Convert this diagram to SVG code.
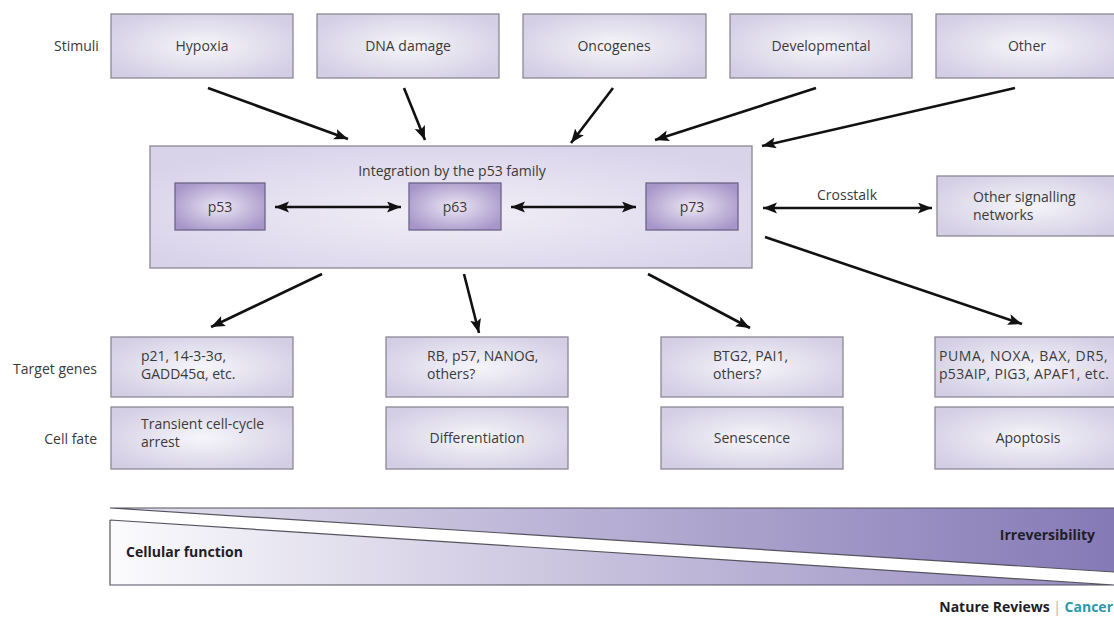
<svg xmlns="http://www.w3.org/2000/svg" width="1114" height="623" viewBox="0 0 1114 623">
<style>
  text { font-family: "Open Sans", "Liberation Sans", sans-serif; font-size: 14px; fill: #3a3a3a; }
  .c { text-anchor: middle; }
  .r { text-anchor: end; }
  .b { font-weight: 700; fill: #1e1e28; }
  .box { fill: url(#boxg); stroke: #8a8894; stroke-width: 1.3; }
  .pbox { fill: url(#pg); stroke: #6d6486; stroke-width: 1.3; }
  .main { fill: url(#maing); stroke: #8a8894; stroke-width: 1.3; }
  .arr { stroke: #111; stroke-width: 2.6; fill: none; marker-end: url(#ah); }
  .darr { stroke: #111; stroke-width: 2.6; fill: none; marker-end: url(#ah); marker-start: url(#ah); }
  .edge { stroke: #55535e; stroke-width: 1.2; fill: none; }
</style>
<defs>
  <radialGradient id="boxg" cx="0.5" cy="0.5" r="0.6">
    <stop offset="0" stop-color="#f6f5fa"/>
    <stop offset="1" stop-color="#d3cee4"/>
  </radialGradient>
  <radialGradient id="pg" cx="0.5" cy="0.5" r="0.6">
    <stop offset="0" stop-color="#ebe6f4"/>
    <stop offset="1" stop-color="#a595c8"/>
  </radialGradient>
  <radialGradient id="maing" cx="0.5" cy="0.55" r="0.6">
    <stop offset="0" stop-color="#f1eff7"/>
    <stop offset="1" stop-color="#d9d3ea"/>
  </radialGradient>
  <linearGradient id="upg" x1="0" y1="0" x2="1" y2="0">
    <stop offset="0" stop-color="#e4e1ee"/>
    <stop offset="0.5" stop-color="#b6aed3"/>
    <stop offset="1" stop-color="#857ab6"/>
  </linearGradient>
  <linearGradient id="lowg" x1="0" y1="0" x2="1" y2="0">
    <stop offset="0" stop-color="#fbfbfd"/>
    <stop offset="0.5" stop-color="#c6bfdc"/>
    <stop offset="1" stop-color="#968bc0"/>
  </linearGradient>
  <marker id="ah" markerUnits="userSpaceOnUse" markerWidth="16" markerHeight="12" refX="14" refY="5.5" orient="auto-start-reverse">
    <path d="M0,0 L14,5.5 L0,11 L3,5.5 z" fill="#111"/>
  </marker>
</defs>

<rect width="1114" height="623" fill="#ffffff"/>

<!-- row labels -->
<g id="labels">
  <text x="54" y="51">Stimuli</text>
  <text class="r" x="97" y="374">Target genes</text>
  <text class="r" x="97" y="444">Cell fate</text>
</g>

<!-- stimuli -->
<g id="hypoxia"><rect class="box" x="111" y="14" width="182" height="64"/><text class="c" x="202" y="51">Hypoxia</text></g>
<g id="dna-damage"><rect class="box" x="317" y="14" width="182" height="64"/><text class="c" x="408" y="51">DNA damage</text></g>
<g id="oncogenes"><rect class="box" x="523" y="14" width="183" height="64"/><text class="c" x="614" y="51">Oncogenes</text></g>
<g id="developmental"><rect class="box" x="730" y="14" width="182" height="64"/><text class="c" x="821" y="51">Developmental</text></g>
<g id="other"><rect class="box" x="936" y="14" width="184" height="64"/><text class="c" x="1027" y="51">Other</text></g>

<!-- integration -->
<g id="integration">
  <rect class="main" x="150" y="146" width="602" height="122"/>
  <text class="c" x="452" y="176">Integration by the p53 family</text>
</g>
<g id="p53"><rect class="pbox" x="175" y="183" width="90" height="47"/><text class="c" x="220" y="212">p53</text></g>
<g id="p63"><rect class="pbox" x="409" y="183" width="92" height="47"/><text class="c" x="455" y="212">p63</text></g>
<g id="p73"><rect class="pbox" x="646" y="183" width="92" height="47"/><text class="c" x="692" y="212">p73</text></g>

<g id="other-signalling">
  <rect class="box" x="937" y="176" width="183" height="60"/>
  <text x="973" y="202">Other signalling</text>
  <text x="973" y="220">networks</text>
</g>

<!-- target genes -->
<g id="tg-arrest"><rect class="box" x="111" y="337" width="182" height="60"/><text x="141" y="361">p21, 14-3-3σ,</text><text x="141" y="379">GADD45α, etc.</text></g>
<g id="tg-diff"><rect class="box" x="386" y="337" width="182" height="60"/><text x="427" y="361">RB, p57, NANOG,</text><text x="427" y="379">others?</text></g>
<g id="tg-sen"><rect class="box" x="661" y="337" width="182" height="60"/><text x="713" y="361">BTG2, PAI1,</text><text x="713" y="379">others?</text></g>
<g id="tg-apop"><rect class="box" x="935" y="337" width="185" height="60"/><text x="939" y="361" letter-spacing="0.6">PUMA, NOXA, BAX, DR5,</text><text x="939" y="379" letter-spacing="0.3">p53AIP, PIG3, APAF1, etc.</text></g>

<!-- cell fate -->
<g id="cf-arrest"><rect class="box" x="111" y="407" width="182" height="62"/><text x="141" y="429">Transient cell-cycle</text><text x="141" y="447">arrest</text></g>
<g id="cf-diff"><rect class="box" x="386" y="407" width="182" height="62"/><text class="c" x="477" y="443">Differentiation</text></g>
<g id="cf-sen"><rect class="box" x="661" y="407" width="182" height="62"/><text class="c" x="752" y="443">Senescence</text></g>
<g id="cf-apop"><rect class="box" x="935" y="407" width="185" height="62"/><text class="c" x="1028" y="443">Apoptosis</text></g>

<!-- connectors -->
<g id="connectors">
  <line class="arr" x1="208" y1="88" x2="348" y2="139"/>
  <line class="arr" x1="404" y1="88" x2="425" y2="140"/>
  <line class="arr" x1="613" y1="88" x2="571" y2="143"/>
  <line class="arr" x1="816" y1="88" x2="655" y2="140"/>
  <line class="arr" x1="1015" y1="88" x2="762" y2="146"/>
  <line class="darr" x1="275" y1="207" x2="401" y2="207"/>
  <line class="darr" x1="511" y1="207" x2="636" y2="207"/>
  <line class="darr" x1="763" y1="208" x2="932" y2="208"/>
  <text class="c" x="847" y="200">Crosstalk</text>
  <line class="arr" x1="322" y1="274" x2="211" y2="327"/>
  <line class="arr" x1="464" y1="274" x2="479" y2="333"/>
  <line class="arr" x1="648" y1="274" x2="750" y2="328"/>
  <line class="arr" x1="765" y1="237" x2="1022" y2="324"/>
</g>

<!-- bottom bar -->
<g id="gradient-bar">
  <path d="M110,508 L1114,508 L1114,572 Z" fill="url(#upg)"/>
  <path d="M110,520 L1114,585 L110,585 Z" fill="url(#lowg)"/>
  <path class="edge" d="M110,508 L1114,508 M110,508 L1114,572 M110,520 L1114,585 M110,520 L110,585 L1114,585"/>
  <text class="b" x="126" y="557">Cellular function</text>
  <text class="b r" x="1095" y="540">Irreversibility</text>
</g>

<g id="credit">
  <text class="b r" x="1113" y="612"><tspan>Nature Reviews</tspan><tspan fill="#b0b0b0" font-weight="400"> | </tspan><tspan fill="#2b98ae">Cancer</tspan></text>
</g>
</svg>
